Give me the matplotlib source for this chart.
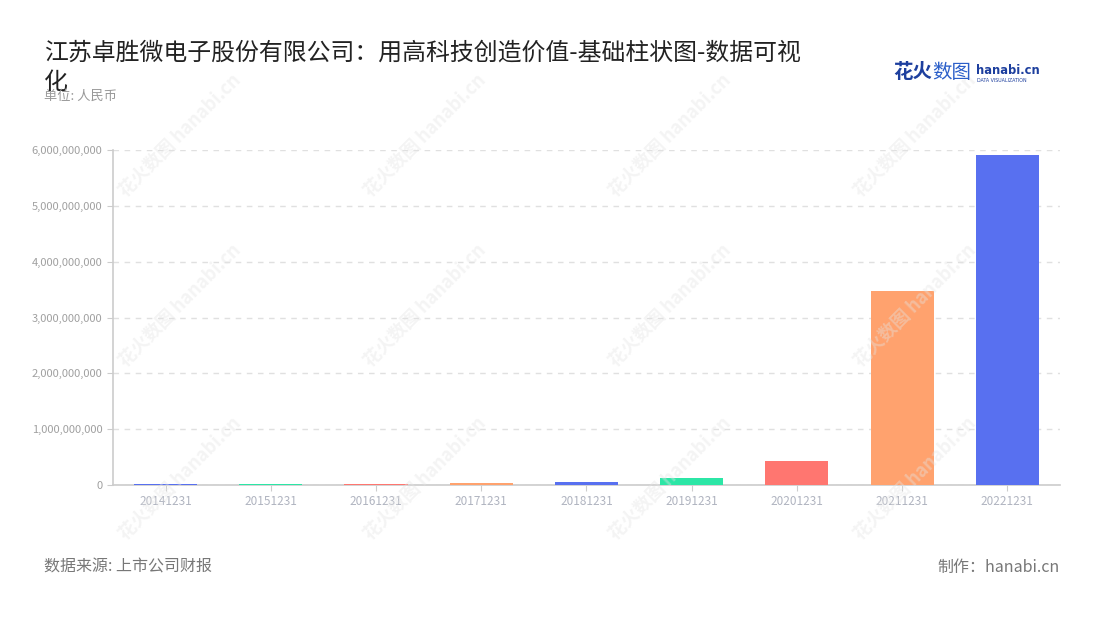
import matplotlib.pyplot as plt
from matplotlib.ticker import FuncFormatter

plt.rcParams['font.family'] = ['Noto Sans CJK SC', 'DejaVu Sans']

# data
dates = ['20141231', '20151231', '20161231', '20171231', '20181231',
         '20191231', '20201231', '20211231', '20221231']
values = [15e6, 12e6, 16e6, 38e6, 62e6, 130e6, 432e6, 3.47e9, 5.92e9]
palette = ['#5870F0', '#2CE6A6', '#FF7670', '#FFA26E']
bar_colors = [palette[i % 4] for i in range(len(dates))]

title = '江苏卓胜微电子股份有限公司：用高科技创造价值-基础柱状图-数据可视\n化'
unit = '单位: 人民币'
source = '数据来源: 上市公司财报'
maker = '制作：hanabi.cn'

fig = plt.figure(figsize=(11, 6.2), dpi=100)
ax = fig.add_axes([0.1027, 0.2177, 0.8609, 0.5403])

############################# watermarks ################################
for cx in [180, 425, 670, 915]:
    for cy in [135, 305, 478]:
        fig.text(cx / 1100, 1 - cy / 620, '花火数图 hanabi.cn', rotation=45,
                 fontsize=13, color='#e4e4e4', alpha=0.4, ha='center',
                 va='center', fontweight='bold', zorder=0)

############################# bars ################################
x = range(len(dates))
ax.bar(x, values, width=0.6, color=bar_colors, zorder=3)

ax.set_xlim(-0.5, len(dates) - 0.5)
ax.set_ylim(0, 6e9)
ax.set_yticks([i * 1e9 for i in range(7)])
ax.yaxis.set_major_formatter(FuncFormatter(lambda v, p: f'{int(v):,}'))
ax.set_xticks(list(x))
ax.set_xticklabels(dates)

ax.grid(axis='y', linestyle=(0, (4, 4)), color='#e0e0e0', linewidth=1, zorder=0)
for s in ['top', 'right']:
    ax.spines[s].set_visible(False)
for s in ['left', 'bottom']:
    ax.spines[s].set_color('#cccccc')
    ax.spines[s].set_linewidth(1.2)
    ax.spines[s].set_zorder(2)
ax.tick_params(axis='y', colors='#cccccc', labelcolor='#a0a0a0', labelsize=8, length=4)
ax.tick_params(axis='x', colors='#cccccc', labelcolor='#b0b4c0', labelsize=8.5, length=4)
ax.patch.set_alpha(0)

############################# texts ################################
fig.text(44 / 1100, 1 - 42 / 620, title, fontsize=17.2, color='#222222',
         va='top', ha='left', linespacing=1.32)
fig.text(44 / 1100, 1 - 96 / 620, unit, fontsize=9.5, color='#999999', va='center')
fig.text(44 / 1100, 1 - 567 / 620, source, fontsize=11.5, color='#777777', va='center')
fig.text(1060 / 1100, 1 - 567 / 620, maker, fontsize=11.5, color='#777777',
         va='center', ha='right')

# logo
fig.text(893 / 1100, 1 - 73 / 620, '花火', fontsize=14, color='#1d3f9e',
         fontweight='bold', va='center')
fig.text(932 / 1100, 1 - 73 / 620, '数图', fontsize=14, color='#2b5fc9', va='center')
fig.text(976 / 1100, 1 - 70 / 620, 'hanabi.cn', fontsize=8.3, color='#1d3f9e',
         fontweight='bold', va='center', family='DejaVu Sans')
fig.text(977 / 1100, 1 - 80 / 620, 'DATA VISUALIZATION', fontsize=3.4,
         color='#1d3f9e', va='center', family='DejaVu Sans')

fig.savefig('out.png', dpi=100)
